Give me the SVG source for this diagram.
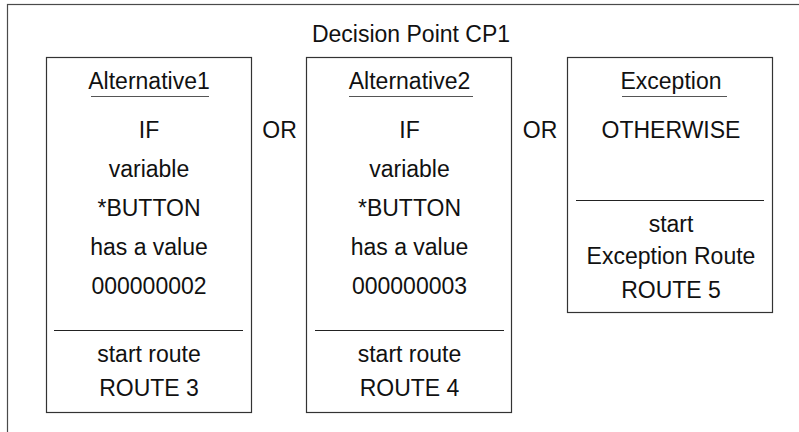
<svg xmlns="http://www.w3.org/2000/svg" width="799" height="432" viewBox="0 0 799 432">
  <style>
    .frame { fill: none; stroke: #4a4a4a; stroke-width: 1.2; }
    .box { fill: #ffffff; stroke: #333333; stroke-width: 1.2; }
    .rule { stroke: #222222; stroke-width: 1.2; }
    .uline { stroke: #555555; stroke-width: 1.2; }
    text { font-family: "Liberation Sans", Arial, Helvetica, sans-serif; font-size: 23px; fill: #111111; text-anchor: middle; }
  </style>
  <rect width="799" height="432" fill="#ffffff"/>

  <!-- Enclosing decision point frame (runs past the right and bottom edges) -->
  <g id="decision-point">
    <rect class="frame" x="7.5" y="4.5" width="812" height="440"/>
    <text x="411" y="41.5">Decision Point CP1</text>
  </g>

  <g id="alternative1">
    <rect class="box" x="46.5" y="57.5" width="205" height="355"/>
    <text x="149" y="89">Alternative1</text>
    <line class="uline" x1="91" y1="96.5" x2="209" y2="96.5"/>
    <text x="149" y="137.5">IF</text>
    <text x="149" y="177">variable</text>
    <text x="149" y="216">*BUTTON</text>
    <text x="149" y="255">has a value</text>
    <text x="149" y="293.5">000000002</text>
    <line class="rule" x1="54" y1="330.5" x2="243" y2="330.5"/>
    <text x="149" y="362.3">start route</text>
    <text x="149" y="395.7">ROUTE 3</text>
  </g>

  <g id="alternative2">
    <rect class="box" x="306.5" y="57.5" width="205" height="355"/>
    <text x="409.5" y="89">Alternative2</text>
    <line class="uline" x1="349" y1="96.5" x2="473" y2="96.5"/>
    <text x="409.5" y="137.5">IF</text>
    <text x="409.5" y="177">variable</text>
    <text x="409.5" y="216">*BUTTON</text>
    <text x="409.5" y="255">has a value</text>
    <text x="409.5" y="293.5">000000003</text>
    <line class="rule" x1="315" y1="330.5" x2="504" y2="330.5"/>
    <text x="409.5" y="362.3">start route</text>
    <text x="409.5" y="395.7">ROUTE 4</text>
  </g>

  <g id="exception">
    <rect class="box" x="567.5" y="57.5" width="205" height="255"/>
    <text x="671" y="89">Exception</text>
    <line class="uline" x1="622" y1="96.5" x2="727" y2="96.5"/>
    <text x="671" y="138">OTHERWISE</text>
    <line class="rule" x1="576" y1="200.5" x2="764" y2="200.5"/>
    <text x="671" y="231.7">start</text>
    <text x="671" y="264.3">Exception Route</text>
    <text x="671" y="297.7">ROUTE 5</text>
  </g>

  <!-- Alternatives are joined by OR labels; no drawn connectors -->
  <g id="connectors">
    <text x="279.5" y="138">OR</text>
    <text x="540" y="138">OR</text>
  </g>
</svg>
